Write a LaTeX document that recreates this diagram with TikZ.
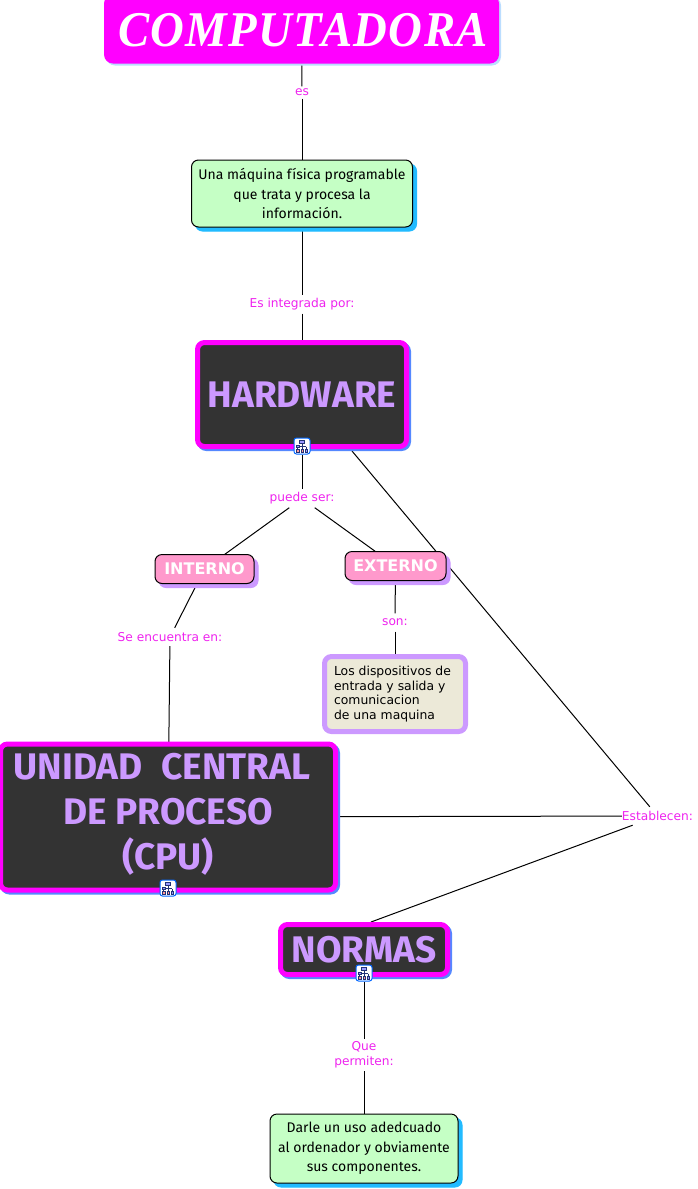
\documentclass[tikz,border=0pt]{standalone}
\usepackage{fontspec}
\setmainfont{DejaVu Sans}
\newfontfamily\headfont{Fira Sans}
\newfontfamily\titlefont[LetterSpace=3]{Liberation Serif}
\usetikzlibrary{shadows}
\pgfdeclarelayer{bg}
\pgfsetlayers{bg,main}
\definecolor{mag}{HTML}{FF00FF}
\definecolor{lab}{HTML}{EE22EE}
\definecolor{mint}{HTML}{C5FFC5}
\definecolor{dark}{HTML}{333333}
\definecolor{lil}{HTML}{CC99FF}
\definecolor{rosa}{HTML}{FF99CC}
\definecolor{cream}{HTML}{ECE9D8}
\definecolor{cyanish}{HTML}{22BBFF}
\definecolor{blueish}{HTML}{5588FF}
\definecolor{pale}{HTML}{BBDDFF}
\definecolor{navy}{HTML}{223377}
\tikzset{
  x=1pt,y=-1pt,
  box/.style={rounded corners=#1,inner sep=0pt,align=center,outer sep=0pt},
  box/.default=7pt,
  lbl/.style={font=\fontsize{12.2}{15}\selectfont,text=lab,align=center,inner sep=0pt},
  titlebox/.style={box=9pt,fill=mag,draw=none,text=white,copy shadow={shadow xshift=2pt,shadow yshift=-2pt,fill=pale,draw=none}},
  mintbox/.style={box,draw=black,line width=1pt,fill=mint,text=black,font=\headfont\fontsize{14}{19.6}\selectfont,copy shadow={shadow xshift=4pt,shadow yshift=-4pt,fill=cyanish,draw=cyanish}},
  darkbox/.style={box,draw=mag,line width=5pt,fill=dark,text=lil,font=\headfont\bfseries\fontsize{37}{45}\selectfont,copy shadow={shadow xshift=2pt,shadow yshift=-2pt,fill=blueish,draw=blueish}},
  rosebox/.style={box,draw=black,line width=1pt,fill=rosa,text=white,font=\bfseries\fontsize{16}{18}\selectfont,copy shadow={shadow xshift=4pt,shadow yshift=-4pt,fill=lil,draw=lil}},
  notebox/.style={box,draw=lil,line width=5pt,fill=cream,text=black,align=left,font=\fontsize{12.4}{14.7}\selectfont},
  iconbox/.style={draw=blue!60!cyan,line width=1pt,fill=white,rounded corners=2.5pt,minimum size=16pt,inner sep=0pt},
  link/.style={draw=black,line width=1pt},
  treeicon/.pic={
    \draw[line width=.7pt,draw=navy] (0,-3)--(0,3.5) (-4.2,0.5)--(4.2,0.5) (-4.2,0.5)--(-4.2,3.5) (4.2,0.5)--(4.2,3.5);
    \filldraw[draw=navy,fill=blue!40,line width=.6pt] (-2.5,-6) rectangle (2.5,-3.2);
    \filldraw[draw=navy,fill=blue!40,line width=.6pt] (-5.5,-1) rectangle (-3,1.2);
    \filldraw[draw=navy,fill=red!40,line width=.6pt] (-5.5,3.5) rectangle (-3,6);
    \filldraw[draw=navy,fill=red!40,line width=.6pt] (-1.2,3.5) rectangle (1.2,6);
    \filldraw[draw=navy,fill=blue!40,line width=.6pt] (3,3.5) rectangle (5.5,6);
  }
}
\begin{document}
\begin{tikzpicture}
\useasboundingbox (0,0) rectangle (697,1189);
\node[titlebox,minimum width=395pt,minimum height=69pt] (title) at (301.5,29) {};
\node[text=white,inner sep=0pt,font=\titlefont\bfseries\itshape\fontsize{50}{50}\selectfont] (titletext) at (303,30) {\scalebox{.935}[1]{COMPUTADORA}};
\node[mintbox,minimum width=221pt,minimum height=67pt] (maq) at (302,193.5) {Una máquina física programable\\que trata y procesa la\\información.};
\node[darkbox,minimum width=209pt,minimum height=104pt] (hw) at (302,394.5) {HARDWARE};
\node[rosebox,minimum width=99pt,minimum height=29pt] (int) at (204.5,569) {INTERNO};
\node[rosebox,minimum width=101pt,minimum height=29pt] (ext) at (395.5,566) {EXTERNO};
\node[notebox,minimum width=141pt,minimum height=75pt] (disp) at (395,694) {Los dispositivos de\kern5pt\\entrada y salida y\\comunicacion\\de una maquina};
\node[darkbox,minimum width=335pt,minimum height=146pt] (cpu) at (168,817) {UNIDAD\hspace{10pt} CENTRAL\kern12pt\\DE PROCESO\\(CPU)\rule[-12pt]{0pt}{1pt}};
\node[darkbox,minimum width=167pt,minimum height=50pt] (norm) at (364,949.5) {NORMAS};
\node[mintbox,minimum width=188pt,minimum height=69pt] (darle) at (364,1148.5) {Darle un uso adedcuado\\al ordenador y obviamente\\sus componentes.};

\node[lbl,minimum height=12pt,minimum width=18pt] (es) at (302,92.5) {es};
\node[lbl,minimum height=18pt,minimum width=106pt] (integ) at (302,304.5) {Es integrada por:};
\node[lbl,minimum height=18pt,minimum width=66pt] (puede) at (302,498.5) {puede ser:};
\node[lbl,minimum height=18pt,minimum width=106pt] (enc) at (170,637) {Se encuentra en:};
\node[lbl,minimum height=18pt,minimum width=28pt] (son) at (395,622.5) {son:};
\node[lbl,minimum height=18pt,minimum width=70pt] (est) at (657.5,816) {Establecen:};
\node[lbl,minimum height=32pt,minimum width=60pt] (perm) at (364,1055) {Que\\permiten:};

\node[iconbox] (ih) at (302,446) {};
\node[iconbox] (ic) at (168,888) {};
\node[iconbox] (in) at (364,973) {};
\pic at (ih) {treeicon};
\pic at (ic) {treeicon};
\pic at (in) {treeicon};

\coordinate (normtop) at (371,922);
\coordinate (hwexit) at (352,451);
\begin{pgfonlayer}{bg}
\draw[link] (title) -- (es);
\draw[link] (es) -- (maq);
\draw[link] (maq) -- (integ);
\draw[link] (integ) -- (hw);
\draw[link] (ih) -- (puede);
\draw[link] (puede) -- (int);
\draw[link] (puede) -- (ext);
\draw[link] (ext) -- (son);
\draw[link] (son) -- (disp);
\draw[link] (int) -- (enc);
\draw[link] (enc) -- (cpu);
\draw[link] (hwexit) -- (est);
\draw[link] (cpu) -- (est);
\draw[link] (est) -- (normtop);
\draw[link] (in) -- (perm);
\draw[link] (perm) -- (darle);
\end{pgfonlayer}
\end{tikzpicture}
\end{document}
